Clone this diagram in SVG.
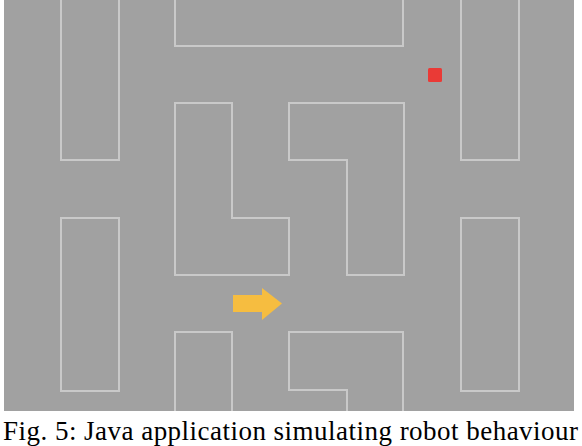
<svg xmlns="http://www.w3.org/2000/svg" width="582" height="446" viewBox="0 0 582 446">
<style>
.wall{fill:none;stroke:#c9c9c9;stroke-width:2;stroke-linejoin:miter}
.cap{font-family:"Liberation Serif","Times New Roman",serif;font-size:27px;fill:#000}
</style>
<rect x="0" y="0" width="582" height="446" fill="#ffffff"/>
<rect x="4" y="0" width="570" height="411" fill="#a1a1a1"/>
<g id="wall-top-left"><path class="wall" d="M61,-2 V160 H119 V-2"/></g>
<g id="wall-top-center"><path class="wall" d="M175,-2 V46 H403 V-2"/></g>
<g id="wall-top-right"><path class="wall" d="M461,-2 V160 H519 V-2"/></g>
<g id="wall-L"><path class="wall" d="M175,103 H232 V218 H289 V275 H175 Z"/></g>
<g id="wall-J"><path class="wall" d="M289,103 H404 V275 H347 V160 H289 Z"/></g>
<g id="wall-bottom-left"><rect class="wall" x="61" y="218" width="58" height="173"/></g>
<g id="wall-bottom-right"><rect class="wall" x="461" y="218" width="58" height="173"/></g>
<g id="wall-bottom-center-left"><path class="wall" d="M175,411 V332 H232 V411"/></g>
<g id="wall-bottom-center-right"><path class="wall" d="M347,411 V390 H289 V332 H403 V411"/></g>
<g id="target"><rect x="428" y="68" width="14" height="14" rx="1.5" fill="#ea3a36"/></g>
<g id="robot"><path d="M233,295 H262 V288 L282,303.5 L262,320 V312 H233 Z" fill="#f6bd40"/></g>
<g id="caption"><text class="cap" x="3" y="440" textLength="575" lengthAdjust="spacing">Fig. 5: Java application simulating robot behaviour</text></g>
</svg>
